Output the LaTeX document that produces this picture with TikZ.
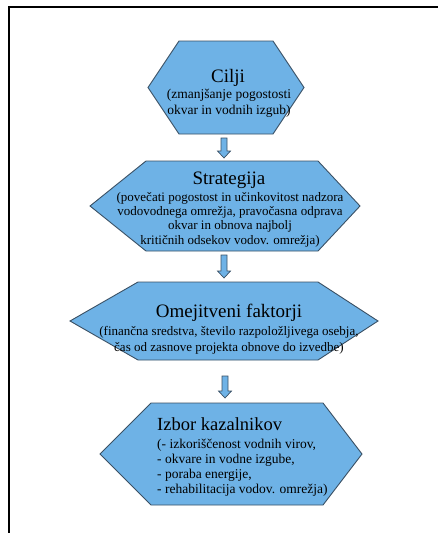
\documentclass[tikz,border=0pt]{standalone}
\usepackage{fontspec}
\setmainfont{Liberation Serif}
\definecolor{hexfill}{RGB}{110,178,230}
\definecolor{hexline}{RGB}{58,80,100}
\newcommand\blockdown[3]{%
  \draw[blockarrow] ({#1-3},{#2}) -- ({#1+3},{#2}) -- ({#1+3},{#3-7}) -- ({#1+6.5},{#3-7})
    -- ({#1},{#3}) -- ({#1-6.5},{#3-7}) -- ({#1-3},{#3-7}) -- cycle;}
\begin{document}
\begin{tikzpicture}[x=1pt,y=-1pt,
  hexbox/.style={fill=hexfill,draw=hexline,line width=0.9pt,line join=miter},
  ttl/.style={font=\fontsize{19}{22}\selectfont,anchor=base,inner sep=0pt},
  sub/.style={font=\fontsize{13.5}{16}\selectfont,anchor=base,inner sep=0pt,align=center},
  blockarrow/.style={fill=hexfill,draw=hexline,line width=0.7pt,line join=miter}]
\useasboundingbox (0,0) rectangle (438,533);
\draw[line width=1.4pt] (438,7) -- (9,7) -- (9,533);
% hexagon 1
\draw[hexbox] (179,41) -- (273,41) -- (304,87.5) -- (273,134) -- (179,134) -- (148,87.5) -- cycle;
\node[ttl] (t1) at (228,82) {Cilji};
\node[sub] (s1) at (229,114) {(zmanjšanje pogostosti\\okvar in vodnih izgub)};
% arrow 1
\blockdown{224}{138}{158}
% hexagon 2
\draw[hexbox] (146,161) -- (318,161) -- (360,206) -- (318,251) -- (146,251) -- (90,206) -- cycle;
\node[ttl] (t2) at (229,184) {Strategija};
\node[sub,font=\fontsize{13}{14.2}\selectfont] (s2) at (230,244) {(povečati pogostost in učinkovitost nadzora\\vodovodnega omrežja, pravočasna odprava\\okvar in obnova najbolj\\kritičnih odsekov vodov. omrežja)};
% arrow 2
\blockdown{224}{255}{278}
% hexagon 3
\draw[hexbox] (138,282) -- (318,282) -- (378,321) -- (318,360) -- (138,360) -- (70,321) -- cycle;
\node[ttl] (t3) at (229,317) {Omejitveni faktorji};
\node[sub,font=\fontsize{13}{16}\selectfont] (s3) at (229,351) {(finančna sredstva, število razpoložljivega osebja,\\čas od zasnove projekta obnove do izvedbe)};
% arrow 3
\blockdown{225}{376}{398}
% hexagon 4
\draw[hexbox] (151,403) -- (323,403) -- (362,454) -- (323,505) -- (151,505) -- (100,454) -- cycle;
\node[ttl,anchor=base west,font=\fontsize{18.5}{22}\selectfont] (t4) at (157,430) {Izbor kazalnikov};
\node[sub,anchor=base west,align=left,font=\fontsize{13.5}{15}\selectfont] (s4) at (157,493) {(- izkoriščenost vodnih virov,\\- okvare in vodne izgube,\\- poraba energije,\\- rehabilitacija vodov. omrežja)};
\end{tikzpicture}
\end{document}
